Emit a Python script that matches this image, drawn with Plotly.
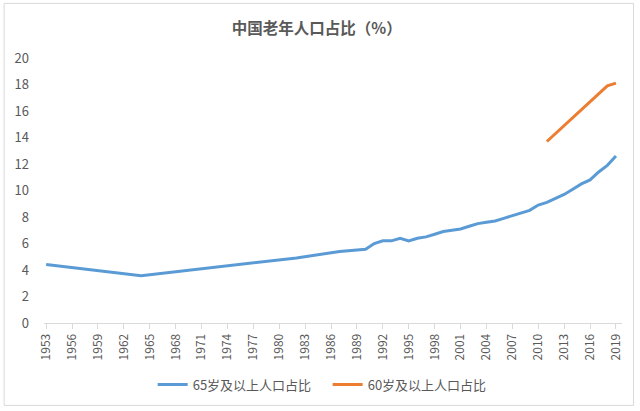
import plotly.graph_objects as go

years_65 = [1953, 1964, 1982, 1987, 1990, 1991, 1992, 1993, 1994, 1995, 1996, 1997, 1998, 1999,
            2000, 2001, 2002, 2003, 2004, 2005, 2006, 2007, 2008, 2009, 2010, 2011, 2012,
            2013, 2014, 2015, 2016, 2017, 2018, 2019]
share_65 = [4.41, 3.56, 4.91, 5.4, 5.57, 6.0, 6.2, 6.2, 6.4, 6.2, 6.4, 6.5, 6.7, 6.9,
            7.0, 7.1, 7.3, 7.5, 7.6, 7.7, 7.9, 8.1, 8.3, 8.5, 8.9, 9.1, 9.4,
            9.7, 10.1, 10.5, 10.8, 11.4, 11.9, 12.6]
years_60 = [2011, 2012, 2013, 2014, 2015, 2016, 2017, 2018, 2019]
share_60 = [13.7, 14.3, 14.9, 15.5, 16.1, 16.7, 17.3, 17.9, 18.1]
tick_years = list(range(1953, 2020, 3))
y_ticks = list(range(0, 21, 2))

font_family = "Noto Sans CJK SC, Noto Sans, sans-serif"
gray = "#595959"

fig = go.Figure()
fig.add_trace(go.Scatter(x=years_65, y=share_65, mode="lines", name="65岁及以上人口占比",
                         line=dict(color="#5B9BD5", width=3)))
fig.add_trace(go.Scatter(x=years_60, y=share_60, mode="lines", name="60岁及以上人口占比",
                         line=dict(color="#ED7D31", width=3)))

fig.update_layout(
    width=640, height=411,
    margin=dict(l=44, r=18, t=58, b=86),
    paper_bgcolor="white", plot_bgcolor="white",
    font=dict(family=font_family, color=gray, size=12),
    title=dict(text="<b>中国老年人口占比（%）</b>", x=0.495, xanchor="center", y=0.93, yanchor="middle",
               font=dict(size=15.5, color=gray, family=font_family)),
    showlegend=True,
    legend=dict(orientation="h", x=0.188, xanchor="left", y=-0.232, yanchor="middle",
                font=dict(size=13, color=gray), itemwidth=30,
                entrywidth=130, entrywidthmode="pixels"),
    xaxis=dict(range=[1952.75, 2019.7], tickmode="array", tickvals=tick_years,
               ticktext=[str(y) for y in tick_years], tickangle=-90, automargin=False,
               showgrid=False, zeroline=False, showline=True, linecolor="#D9D9D9", linewidth=1,
               ticks="outside", ticklen=5, tickcolor="#D9D9D9",
               tickfont=dict(size=12, color=gray)),
    yaxis=dict(range=[0, 20], tickmode="array", tickvals=y_ticks, showgrid=False, automargin=False,
               zeroline=False, showline=False, ticks="", ticklabelstandoff=14,
               tickfont=dict(size=13, color=gray)),
    shapes=[dict(type="rect", xref="paper", yref="paper", x0=-0.069, x1=1.02, y0=-0.311, y1=1.206,
                 line=dict(color="#D9D9D9", width=1), fillcolor="rgba(0,0,0,0)", layer="below")],
)

fig.write_html("out.html", config={"displayModeBar": False},
               post_script="document.body.style.margin='0';")
